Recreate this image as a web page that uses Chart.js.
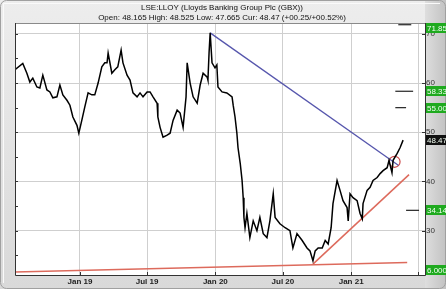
<!DOCTYPE html>
<html lang="en">
<head>
    <meta charset="UTF-8">
    <title>LSE:LLOY</title>
    <script src="https://cdn.jsdelivr.net/npm/chart.js"></script>
    <style>
        body { margin: 0; padding: 0; background: #e6e6e6; }
        #wrap { width: 446px; height: 289px; }
    </style>
</head>
<body>
    <div id="wrap"><canvas id="lloyChart" width="446" height="289"></canvas></div>

    <script>
        // x values are days counted from 1 Jan 2019
        const titleLines = [
            'LSE:LLOY (Lloyds Banking Group Plc (GBX))',
            'Open: 48.165 High: 48.525 Low: 47.665 Cur: 48.47 (+00.25/+00.52%)'
        ];
        const tickDays = [0, 181, 365, 547, 731, 912];
        const tickLabels = ['Jan 19', 'Jul 19', 'Jan 20', 'Jul 20', 'Jan 21', ''];
        const yTickValues = [30, 40, 50, 60, 70];
        const yMinorTicks = [25, 35, 45, 55, 65];

        const days = [
            -175, -154, -143, -135, -127, -116, -108, -100, -89, -81,
            -73, -62, -54, -46, -35, -27, -19, -8, -3, 5,
            13, 22, 32, 40, 49, 59, 67, 73, 76, 86,
            94, 102, 111, 116, 127, 135, 143, 154, 162, 170,
            181, 189, 197, 208, 210, 216, 224, 235, 243, 251,
            262, 270, 278, 286, 289, 297, 305, 316, 324, 332,
            343, 345, 348, 351, 356, 364, 369, 372, 383, 396,
            410, 413, 418, 423, 426, 432, 437, 440, 442, 445,
            450, 458, 467, 477, 485, 494, 504, 512, 521, 526,
            539, 553, 566, 574, 585, 599, 612, 620, 628, 634,
            642, 653, 661, 669, 677, 682, 693, 701, 709, 720,
            723, 728, 736, 747, 755, 761, 763, 774, 782, 790,
            801, 809, 817, 828, 833, 841, 844, 855, 863, 871
        ];
        const prices = [
            62.7, 64.0, 62.0, 60.2, 61.0, 59.2, 59.0, 61.6, 58.6, 58.2,
            57.0, 57.2, 59.6, 57.6, 56.5, 55.5, 53.1, 51.4, 49.8, 52.4,
            55.1, 58.0, 57.6, 57.6, 60.0, 63.3, 64.1, 64.1, 66.1, 62.0,
            62.7, 63.3, 66.7, 64.1, 61.6, 60.6, 58.0, 57.2, 58.0, 57.2,
            58.2, 58.2, 57.2, 55.9, 53.1, 51.0, 49.0, 49.4, 49.8, 52.4,
            54.5, 53.9, 51.0, 57.2, 64.1, 60.0, 57.2, 55.9, 59.6, 62.0,
            61.2, 60.6, 66.1, 70.2, 64.1, 63.1, 63.7, 59.2, 58.2, 58.0,
            57.2, 55.5, 53.1, 49.8, 46.9, 43.7, 40.2, 36.7, 32.7, 30.6,
            33.5, 28.6, 32.0, 30.0, 32.7, 29.4, 28.6, 32.0, 37.5, 32.7,
            31.4, 30.6, 30.0, 26.5, 29.4, 28.0, 26.5, 25.9, 23.9, 25.9,
            26.5, 26.5, 28.0, 27.3, 30.6, 35.5, 40.2, 38.2, 36.1, 34.7,
            32.0, 37.5, 36.7, 36.1, 33.5, 32.4, 35.5, 38.2, 38.8, 40.2,
            40.8, 41.6, 42.2, 42.8, 44.3, 41.8, 44.3, 45.7, 46.9, 48.4
        ];

        // trend lines: [startDay, startValue, endDay, endValue]
        const downTrend = [351, 70.2, 858, 43.3];
        const baseTrend = [-175, 21.6, 882, 23.55];
        const riseTrend = [628, 23.2, 887, 41.4];
        const breakPoint = [848, 44.0];

        // short target marks: level, fromDay, toDay
        const markLevels = [71.85, 58.33, 55.00, 34.14];
        const markFrom = [858, 850, 850, 879];
        const markTo = [893, 898, 879, 914];

        // price tags on the right edge
        const tagValues = [71.85, 58.33, 55.00, 48.47, 34.14, 6.000];
        const tagTexts = ['71.85', '58.33', '55.00', '48.47', '34.14', '6.000'];
        const tagColors = ['#1faa1f', '#1faa1f', '#1faa1f', '#111111', '#1faa1f', '#1faa1f'];

        const FONT = "'Liberation Sans', Arial, sans-serif";

        function seg(t) {
            return [{ x: t[0], y: t[1] }, { x: t[2], y: t[3] }];
        }

        const datasets = [
            {
                data: days.map((d, i) => ({ x: d, y: prices[i] })),
                borderColor: '#000',
                borderWidth: 1.5
            },
            { data: seg(downTrend), borderColor: '#5656ad', borderWidth: 1.3 },
            { data: seg(baseTrend), borderColor: '#dd6a5c', borderWidth: 1.5 },
            { data: seg(riseTrend), borderColor: '#dd6a5c', borderWidth: 1.5 },
            {
                data: [{ x: breakPoint[0], y: breakPoint[1] }],
                showLine: false,
                pointRadius: 5.5,
                pointBorderWidth: 1.2,
                pointBorderColor: '#cc4a4a',
                pointBackgroundColor: 'rgba(0,0,0,0)'
            }
        ];
        markLevels.forEach((lv, i) => {
            datasets.push({
                data: [{ x: markFrom[i], y: lv }, { x: markTo[i], y: lv }],
                borderColor: '#222',
                borderWidth: 1.2
            });
        });

        const framePlugin = {
            id: 'frame',
            beforeDraw(chart) {
                const ctx = chart.ctx;
                const a = chart.chartArea;
                const W = chart.width, H = chart.height;
                ctx.save();
                let g = ctx.createLinearGradient(0, 0, 0, H);
                g.addColorStop(0, '#ededed');
                g.addColorStop(1, '#d9d9d9');
                ctx.fillStyle = g;
                ctx.fillRect(0, 0, W, H);

                // right label panel
                g = ctx.createLinearGradient(a.right, 0, W, 0);
                g.addColorStop(0, '#dedede');
                g.addColorStop(1, '#c2c2c2');
                ctx.fillStyle = g;
                ctx.fillRect(a.right, 0, W - a.right, H);

                ctx.strokeStyle = '#a0a0a0';
                ctx.lineWidth = 1;
                ctx.beginPath();
                ctx.roundRect(0.5, 0.5, W - 1, H - 1, 6);
                ctx.stroke();
                ctx.strokeStyle = '#fafafa';
                ctx.beginPath();
                ctx.moveTo(3.5, H - 6);
                ctx.lineTo(3.5, 3.5);
                ctx.lineTo(W - 6, 3.5);
                ctx.stroke();

                ctx.fillStyle = '#fff';
                ctx.fillRect(a.left, a.top, a.right - a.left, a.bottom - a.top);

                ctx.fillStyle = '#111';
                ctx.font = '8px ' + FONT;
                ctx.textAlign = 'center';
                ctx.textBaseline = 'middle';
                ctx.fillText(titleLines[0], 222, 7.5);
                ctx.fillText(titleLines[1], 222, 17.5);
                ctx.restore();
            },
            afterDatasetsDraw(chart) {
                const ctx = chart.ctx;
                const a = chart.chartArea;
                const ys = chart.scales.y;
                ctx.save();
                ctx.lineWidth = 1;
                ctx.strokeStyle = '#8a8a8a';
                ctx.beginPath();
                ctx.moveTo(a.left, a.top + 0.5);
                ctx.lineTo(a.right, a.top + 0.5);
                ctx.stroke();
                ctx.strokeStyle = '#333';
                ctx.beginPath();
                ctx.moveTo(a.left + 0.5, a.top);
                ctx.lineTo(a.left + 0.5, a.bottom + 0.5);
                ctx.lineTo(a.right + 0.5, a.bottom + 0.5);
                ctx.lineTo(a.right + 0.5, a.top);
                ctx.stroke();
                // small ticks
                ctx.beginPath();
                yMinorTicks.concat(yTickValues).forEach(v => {
                    const y = Math.round(ys.getPixelForValue(v)) + 0.5;
                    ctx.moveTo(a.left, y);
                    ctx.lineTo(a.left + 3, y);
                });
                yTickValues.forEach(v => {
                    const y = Math.round(ys.getPixelForValue(v)) + 0.5;
                    ctx.moveTo(a.right - 3, y);
                    ctx.lineTo(a.right + 1, y);
                });
                chart.scales.x.ticks.forEach(t => {
                    const x = Math.round(chart.scales.x.getPixelForValue(t.value)) + 0.5;
                    ctx.moveTo(x, a.bottom);
                    ctx.lineTo(x, a.bottom - 3);
                });
                ctx.stroke();
                ctx.restore();
            },
            afterDraw(chart) {
                const ctx = chart.ctx;
                const a = chart.chartArea;
                const ys = chart.scales.y;
                ctx.save();
                ctx.font = '8px ' + FONT;
                ctx.textAlign = 'left';
                ctx.textBaseline = 'middle';
                tagValues.forEach((v, i) => {
                    let y = ys.getPixelForValue(v);
                    y = Math.min(Math.max(y, a.top + 5), a.bottom - 5);
                    ctx.fillStyle = tagColors[i];
                    ctx.fillRect(a.right + 1, Math.round(y) - 5, 25, 10);
                    ctx.fillStyle = '#f4fff4';
                    ctx.fillText(tagTexts[i], a.right + 2, Math.round(y) + 0.5);
                });
                ctx.restore();
            }
        };

        new Chart(document.getElementById('lloyChart'), {
            type: 'line',
            data: { datasets: datasets },
            plugins: [framePlugin],
            options: {
                responsive: false,
                animation: false,
                layout: { padding: { left: 15, top: 23, right: 0, bottom: 0 } },
                elements: {
                    point: { radius: 0 },
                    line: { tension: 0 }
                },
                plugins: {
                    legend: { display: false },
                    tooltip: { enabled: false },
                    title: { display: false }
                },
                scales: {
                    x: {
                        type: 'linear',
                        min: -175,
                        max: 930,
                        afterFit: (s) => { s.height = 14; },
                        afterBuildTicks: (s) => { s.ticks = tickDays.map(v => ({ value: v })); },
                        ticks: {
                            autoSkip: false,
                            maxRotation: 0,
                            padding: 2,
                            color: '#222',
                            font: { size: 8, weight: 'bold', family: FONT },
                            callback: (v) => tickLabels[tickDays.indexOf(v)]
                        },
                        grid: { color: '#cfcfcf', drawTicks: false },
                        border: { display: false }
                    },
                    y: {
                        position: 'right',
                        min: 21,
                        max: 72.2,
                        afterFit: (s) => { s.width = 21; },
                        afterBuildTicks: (s) => { s.ticks = yTickValues.map(v => ({ value: v })); },
                        ticks: {
                            padding: 1,
                            color: '#333',
                            font: { size: 8, family: FONT },
                            callback: (v) => String(v)
                        },
                        grid: { color: '#cfcfcf', drawTicks: false },
                        border: { display: false }
                    }
                }
            }
        });
    </script>
</body>
</html>
